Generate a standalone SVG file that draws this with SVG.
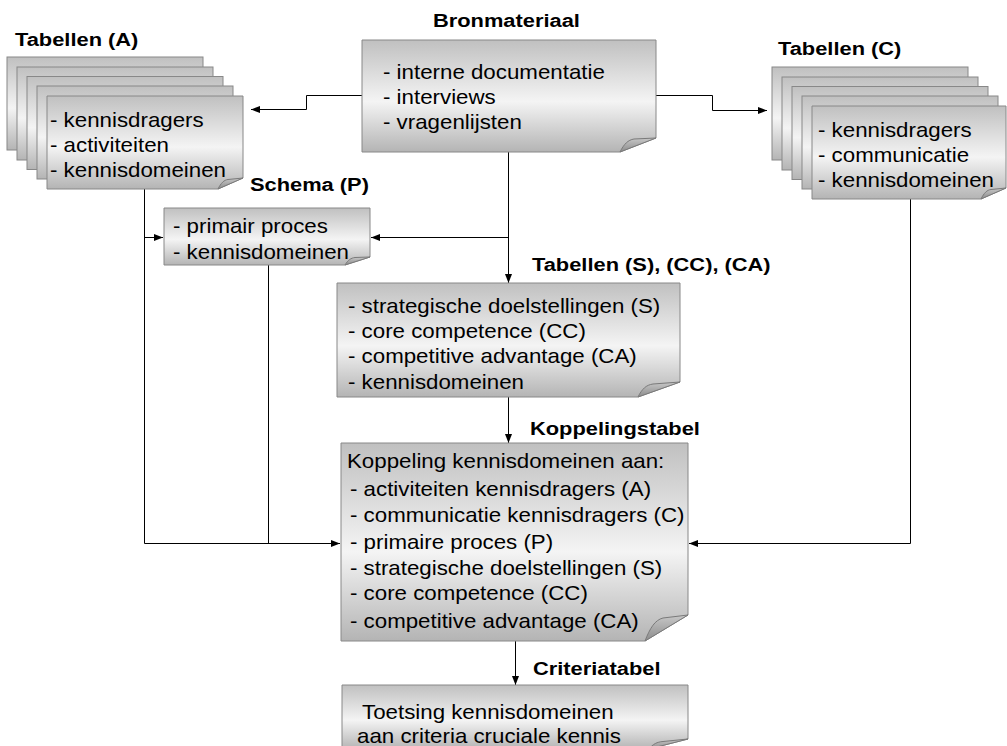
<svg xmlns="http://www.w3.org/2000/svg" width="1007" height="746" viewBox="0 0 1007 746">
<defs>
<linearGradient id="pg" x1="0" y1="0" x2="0" y2="1">
<stop offset="0" stop-color="#c0c0c0"/>
<stop offset="0.55" stop-color="#f4f4f4"/>
<stop offset="1" stop-color="#b4b4b4"/>
</linearGradient>
<linearGradient id="fd" x1="0" y1="0" x2="0" y2="1">
<stop offset="0" stop-color="#c8c8c8"/>
<stop offset="1" stop-color="#8c8c8c"/>
</linearGradient>
<marker id="ah" markerWidth="9" markerHeight="7" refX="9" refY="3.5" orient="auto" markerUnits="userSpaceOnUse">
<path d="M0,0 L9,3.5 L0,7 Z" fill="#000"/>
</marker>
<style>
.pg{fill:url(#pg);stroke:#888;stroke-width:1}
.fd{fill:url(#fd);stroke:#7a7a7a;stroke-width:1}
.t{font-family:"Liberation Sans",Arial,sans-serif;font-size:19.4px;fill:#000;transform-box:fill-box;transform-origin:0 0;transform:scaleX(1.15)}
.l{font-family:"Liberation Sans",Arial,sans-serif;font-size:19px;font-weight:bold;fill:#000;transform-box:fill-box;transform-origin:0 0;transform:scaleX(1.15)}
.c{fill:none;stroke:#000;stroke-width:1}
</style>
</defs>
<rect width="1007" height="746" fill="#fff"/>

<g id="connectors">
<path class="c" d="M362,95.5 H306.5 V109.5 H251" marker-end="url(#ah)"/>
<path class="c" d="M656,95.5 H712.5 V110.5 H767" marker-end="url(#ah)"/>
<path class="c" d="M508.5,152 V283" marker-end="url(#ah)"/>
<path class="c" d="M508.5,237.5 H371" marker-end="url(#ah)"/>
<path class="c" d="M144.5,189 V543.5 H340" marker-end="url(#ah)"/>
<path class="c" d="M144.5,237.5 H163" marker-end="url(#ah)"/>
<path class="c" d="M268.5,265 V543.5"/>
<path class="c" d="M910.5,199 V543.5 H689" marker-end="url(#ah)"/>
<path class="c" d="M508.5,397 V443" marker-end="url(#ah)"/>
<path class="c" d="M515.5,641 V685" marker-end="url(#ah)"/>
</g>

<g id="bronmateriaal">
<text class="l" x="433" y="27">Bronmateriaal</text>
<path class="pg" d="M362,40 H656 V138 L620,152 H362 Z"/>
<path class="fd" d="M620,152 C624,144 628,140 634,139 L656,138 Z"/>
<text class="t" x="383" y="79">- interne documentatie</text>
<text class="t" x="383" y="104">- interviews</text>
<text class="t" x="383" y="129">- vragenlijsten</text>
</g>

<g id="tabellen-a">
<text class="l" x="15" y="46">Tabellen (A)</text>
<rect class="pg" x="7" y="57" width="196" height="93"/>
<rect class="pg" x="17" y="67" width="196" height="93"/>
<rect class="pg" x="27" y="76.5" width="196" height="93"/>
<rect class="pg" x="37" y="86" width="196" height="93"/>
<path class="pg" d="M47,96 H243 V178 L218,189 H47 Z"/>
<path class="fd" d="M218,189 C221,183 224,180 228,179.5 L243,178 Z"/>
<text class="t" x="50" y="127">- kennisdragers</text>
<text class="t" x="50" y="152.5">- activiteiten</text>
<text class="t" x="50" y="177.5">- kennisdomeinen</text>
</g>

<g id="tabellen-c">
<text class="l" x="778" y="55">Tabellen (C)</text>
<rect class="pg" x="772" y="67" width="196" height="93"/>
<rect class="pg" x="782" y="77" width="196" height="93"/>
<rect class="pg" x="792" y="86.5" width="196" height="93"/>
<rect class="pg" x="802" y="96" width="196" height="93"/>
<path class="pg" d="M812,106 H1006 V188 L981,199 H812 Z"/>
<path class="fd" d="M981,199 C984,193 987,190 991,189.5 L1006,188 Z"/>
<text class="t" x="818" y="137">- kennisdragers</text>
<text class="t" x="818" y="162">- communicatie</text>
<text class="t" x="818" y="187">- kennisdomeinen</text>
</g>

<g id="schema-p">
<text class="l" x="250" y="191">Schema (P)</text>
<path class="pg" d="M164,208 H370 V257 L345,265 H164 Z"/>
<path class="fd" d="M345,265 C348,260 351,258 355,257.5 L370,257 Z"/>
<text class="t" x="173" y="233">- primair proces</text>
<text class="t" x="173" y="259">- kennisdomeinen</text>
</g>

<g id="tabellen-s-cc-ca">
<text class="l" x="532" y="271">Tabellen (S), (CC), (CA)</text>
<path class="pg" d="M337,283 H680 V382 L638,397 H337 Z"/>
<path class="fd" d="M638,397 C642,389 646,385 653,384 L680,382 Z"/>
<text class="t" x="348" y="313">- strategische doelstellingen (S)</text>
<text class="t" x="348" y="338">- core competence (CC)</text>
<text class="t" x="348" y="363">- competitive advantage (CA)</text>
<text class="t" x="348" y="389">- kennisdomeinen</text>
</g>

<g id="koppelingstabel">
<text class="l" x="530" y="435">Koppelingstabel</text>
<path class="pg" d="M341,443 H688 V615 L645,641 H341 Z"/>
<path class="fd" d="M645,641 C650,628 655,620 663,618 L688,615 Z"/>
<text class="t" x="347" y="468">Koppeling kennisdomeinen aan:</text>
<text class="t" x="350" y="496">- activiteiten kennisdragers (A)</text>
<text class="t" x="350" y="522">- communicatie kennisdragers (C)</text>
<text class="t" x="350" y="549">- primaire proces (P)</text>
<text class="t" x="350" y="575">- strategische doelstellingen (S)</text>
<text class="t" x="350" y="600">- core competence (CC)</text>
<text class="t" x="350" y="628">- competitive advantage (CA)</text>
</g>

<g id="criteriatabel">
<text class="l" x="533" y="675">Criteriatabel</text>
<path class="pg" d="M342,685 H688 V739 L649,749 H342 Z"/>
<path class="fd" d="M649,749 C653,744 657,742 663,741.5 L688,739 Z"/>
<text class="t" x="362" y="719">Toetsing kennisdomeinen</text>
<text class="t" x="357" y="743">aan criteria cruciale kennis</text>
</g>
</svg>
